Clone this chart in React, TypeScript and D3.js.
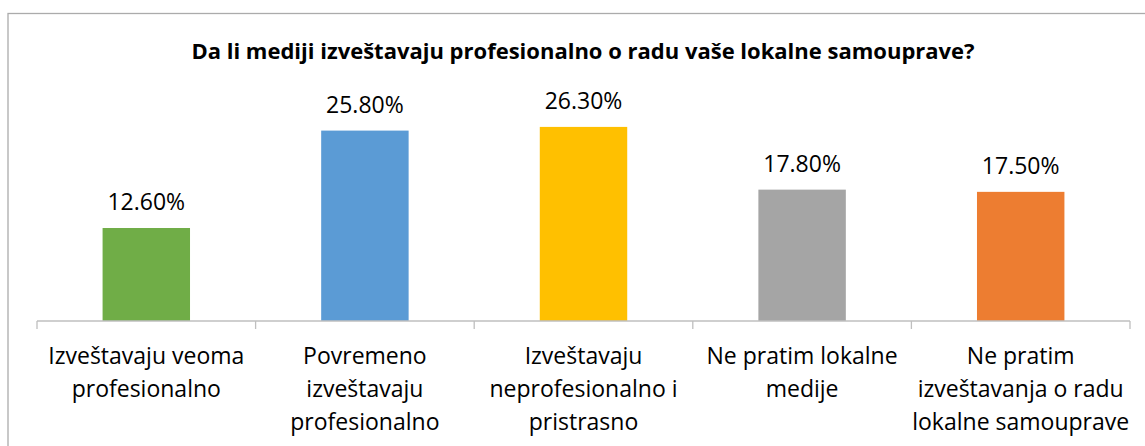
import React from "react";
import * as d3 from "d3";

const categories: string[][] = [
  ["Izveštavaju veoma", "profesionalno"],
  ["Povremeno", "izveštavaju", "profesionalno"],
  ["Izveštavaju", "neprofesionalno i", "pristrasno"],
  ["Ne pratim lokalne", "medije"],
  ["Ne pratim", "izveštavanja o radu", "lokalne samouprave"],
];
const values: number[] = [0.126, 0.258, 0.263, 0.178, 0.175];
const valueLabels: string[] = ["12.60%", "25.80%", "26.30%", "17.80%", "17.50%"];
const colors: string[] = ["#70AD47", "#5B9BD5", "#FFC000", "#A5A5A5", "#ED7D31"];
const title = "Da li mediji izveštavaju profesionalno o radu vaše lokalne samouprave?";

const W = 1145;
const H = 446;
const FONT = "'Open Sans', sans-serif";

export default function App() {
  const keys = categories.map((_, i) => String(i));
  const x = d3.scaleBand<string>().domain(keys).range([37, 1130]).padding(0);
  const y = d3.scaleLinear().domain([0, 0.3]).range([321, 99.6]);
  const barW = x.bandwidth() * 0.4;
  const ticks = keys.map((k) => x(k) as number).concat([1130]);

  return (
    <svg
      width={W}
      height={H}
      style={{ position: "absolute", left: 0, top: 0, background: "#fff" }}
    >
      <rect x={8} y={13.5} width={1160} height={460} fill="#fff" stroke="#ABABAB" strokeWidth={1.3} />
      <text
        x={583}
        y={59}
        textAnchor="middle"
        fontFamily={FONT}
        fontWeight="bold"
        fontSize={22}
        fill="#000"
      >
        {title}
      </text>
      {values.map((v, i) => {
        const cx = (x(keys[i]) as number) + x.bandwidth() / 2;
        return (
          <g key={i}>
            <rect x={cx - barW / 2} y={y(v)} width={barW} height={y(0) - y(v)} fill={colors[i]} />
            <text
              x={cx}
              y={y(v) - 18}
              textAnchor="middle"
              fontFamily={FONT}
              fontSize={23}
              fill="#000"
            >
              {valueLabels[i]}
            </text>
          </g>
        );
      })}
      <line x1={37} x2={1130} y1={y(0)} y2={y(0)} stroke="#BFBFBF" strokeWidth={1.3} />
      {ticks.map((t, i) => (
        <line key={i} x1={t} x2={t} y1={y(0)} y2={y(0) + 8} stroke="#BFBFBF" strokeWidth={1.3} />
      ))}
      {categories.map((lines, i) => {
        const cx = (x(keys[i]) as number) + x.bandwidth() / 2;
        return (
          <text key={i} textAnchor="middle" fontFamily={FONT} fontSize={23} fill="#000">
            {lines.map((l, j) => (
              <tspan key={j} x={cx} y={364 + j * 33}>
                {l}
              </tspan>
            ))}
          </text>
        );
      })}
    </svg>
  );
}
